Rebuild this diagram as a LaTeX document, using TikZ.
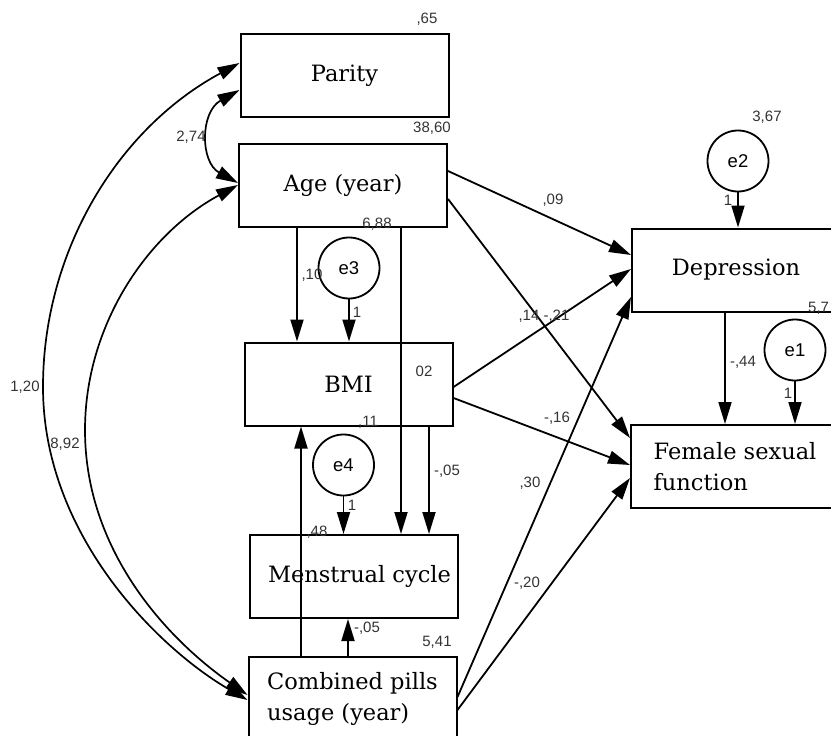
\documentclass[tikz,border=0pt]{standalone}
\usepackage{fontspec}
\setmainfont{DejaVu Serif}
\newfontfamily\lblfont{Liberation Sans}
\usetikzlibrary{arrows.meta}
\begin{document}
\begin{tikzpicture}[x=1pt,y=-1pt,
  box/.style={draw, line width=2pt, minimum width=208pt, minimum height=83pt, inner sep=0pt, font=\fontsize{22.5}{31}\selectfont, align=center},
  err/.style={draw, circle, line width=1.8pt, minimum size=61pt, inner sep=0pt, font=\lblfont\fontsize{18.5}{20}\selectfont},
  num/.style={font=\lblfont\fontsize{15}{17}\selectfont, text=black!80, inner sep=0pt},
  arr/.style={line width=1.8pt, -{Triangle[length=22pt,width=13pt]}},
  cov/.style={line width=1.7pt, {Triangle[length=22pt,width=13pt]}-{Triangle[length=22pt,width=13pt]}}
]
\useasboundingbox (0,0) rectangle (831,736);
\clip (0,0) rectangle (831,736);

% boxes
\node[box] (par) at (344.5,75.5) {Parity};
\node[box] (age) at (343,185.5) {Age (year)};
\node[box] (bmi) at (348.5,384) {BMI};
\node[box] (men) at (353.5,576.5) {\hspace*{12pt}Menstrual cycle};
\node[box, align=left] (com) at (352.5,698.5) {Combined pills\\usage (year)};
\node[box] (dep) at (736,270) {Depression};
\node[box, align=left] (fem) at (735,466.5) {Female sexual\\function};

% error terms
\node[err] (e3) at (349,268) {e3};
\node[err] (e4) at (343.5,465) {e4};
\node[err] (e2) at (738,161) {e2};
\node[err] (e1) at (795,350) {e1};

% vertical paths
\draw[arr] ([xshift=-46pt]age.south) -- ([xshift=-51.5pt]bmi.north);
\draw[arr] (e3.south) -- (e3.south |- bmi.north);
\draw[arr] ([xshift=58pt]age.south) -- ([xshift=47.5pt]men.north);
\draw[arr] ([xshift=80.5pt]bmi.south) -- ([xshift=75.5pt]men.north);
\draw[arr] (e4.south) -- (e4.south |- men.north);
\draw[arr] ([xshift=-51.5pt]com.north) -- ([xshift=-47.5pt]bmi.south);
\draw[arr] ([xshift=-4.5pt]com.north) -- ([xshift=-5.5pt]men.south);
\draw[arr] ([xshift=-11pt]dep.south) -- ([xshift=-10pt]fem.north);
\draw[arr] (e1.south) -- (e1.south |- fem.north);
\draw[arr] (e2.south) -- (e2.south |- dep.north);

% diagonal paths
\draw[arr] ([yshift=14.5pt]age.east) -- ([yshift=15pt]dep.west);
\draw[arr] ([yshift=-13.5pt]age.east) -- ([yshift=28.5pt]fem.west);
\draw[arr] ([yshift=-3pt]bmi.east) -- ([yshift=1pt]dep.west);
\draw[arr] ([yshift=-14pt]bmi.east) -- ([yshift=1.5pt]fem.west);
\draw[arr] ([yshift=1.5pt]com.east) -- ([yshift=-27pt]dep.west);
\draw[arr] ([yshift=-11.5pt]com.east) -- ([yshift=-11.5pt]fem.west);

% covariances
\coordinate (outerL) at (43,387);
\coordinate (innerL) at (85,430);
\draw[cov] ([yshift=-14.5pt]par.west) .. controls (200,112) and (200,162) .. ([yshift=2.5pt]age.west);
\draw[cov] ([yshift=-1.5pt]com.west) .. controls (161,650) and (43,537) .. (outerL)
           .. controls (43,252) and (117,129) .. ([yshift=12.5pt]par.west);
\draw[cov] ([yshift=3.5pt]com.west) .. controls (166,638) and (85,550) .. (innerL)
           .. controls (85,326) and (146.5,234.4) .. ([yshift=0.5pt]age.west);

% numbers
\node[num] (n65) at (427,19) {,65};
\node[num] (n3860) at (432,128) {38,60};
\node[num] (n274) at (191,137) {2,74};
\node[num] (n688) at (377,224) {6,88};
\node[num] (n10) at (312,275) {,10};
\node[num] (n1a) at (357,312) {1};
\node[num] (n02) at (424,371) {02};
\node[num] (n11) at (368,422) {,11};
\node[num] (n05a) at (447,471) {-,05};
\node[num] (n1b) at (352,505) {1};
\node[num] (n48) at (317,532) {,48};
\node[num] (n05b) at (367,628) {-,05};
\node[num] (n541) at (437,642) {5,41};
\node[num] (n120) at (25,387) {1,20};
\node[num] (n892) at (65,444) {8,92};
\node[num] (n367) at (767,117) {3,67};
\node[num] (n1c) at (728,200) {1};
\node[num] (n09) at (553,200) {,09};
\node[num] (n1421) at (544,316) {,14 -,21};
\node[num, anchor=west] (n57) at (808,308) {5,7};
\node[num] (n44) at (743,362) {-,44};
\node[num] (n1d) at (788,393) {1};
\node[num] (n16) at (557,418) {-,16};
\node[num] (n30) at (530,483) {,30};
\node[num] (n20) at (527,583) {-,20};
\end{tikzpicture}
\end{document}
